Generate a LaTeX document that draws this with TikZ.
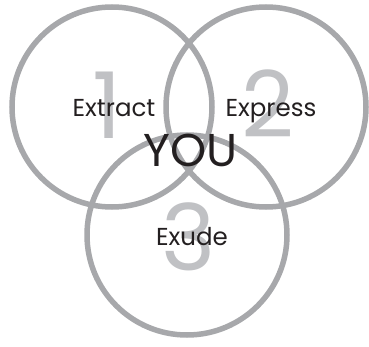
\documentclass[tikz,border=0pt]{standalone}
\usepackage{fontspec}
\setmainfont{Poppins}
\usepackage{xcolor}
\definecolor{ringgray}{HTML}{A7A8AB}
\definecolor{numgray}{HTML}{C0C1C4}
\definecolor{inkdark}{HTML}{231F20}

\begin{document}
\begin{tikzpicture}[x=1pt, y=-1pt,
    ring/.style={line width=5.5pt, draw=ringgray},
    bignum/.style={text=numgray, inner sep=0pt, anchor=base, font=\fontsize{92}{92}\selectfont},
    word/.style={text=inkdark, inner sep=0pt, anchor=base, font=\fontsize{24.5}{24.5}\selectfont}]
      \def\radius{100pt}
      \useasboundingbox (0,0) rectangle (369,347);

      % the three rings
      \foreach \cx/\cy in {112/107, 266/107, 187/235} {
        \draw[ring] (\cx,\cy) circle(\radius);
      }

      % step numbers
      \node[bignum] (n1) at (107,139) {1};
      \node[bignum] (n2) at (268,138) {2};
      \node[bignum] (n3) at (189,270) {3};

      % step words
      \node[word] (extract) at (114,117) {Extract};
      \node[word] (express) at (271,117) {Express};
      \node[word] (exude) at (192,245) {Exude};
      \node[word, font=\fontsize{46}{46}\selectfont] (you) at (190.5,167) {YOU};
    \end{tikzpicture}
\end{document}
